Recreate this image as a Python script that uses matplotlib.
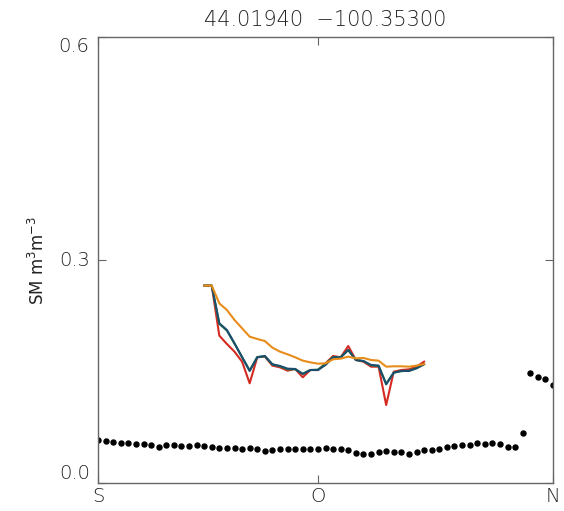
import matplotlib
matplotlib.use("Agg")
import matplotlib.pyplot as plt
import numpy as np

# dotted series along the whole transect (61 positions, S -> N)
dot_sm = [0.0578, 0.0565, 0.0556, 0.0542, 0.0534, 0.0525, 0.0525, 0.0511, 0.0488, 0.0507,
          0.0511, 0.0498, 0.0498, 0.0511, 0.0502, 0.0488, 0.0467, 0.0467, 0.0467, 0.0461,
          0.0471, 0.0453, 0.0435, 0.0444, 0.0457, 0.0457, 0.0457, 0.0453, 0.0453, 0.0457,
          0.0471, 0.0453, 0.0453, 0.0444, 0.0408, 0.0390, 0.0390, 0.0417, 0.0435, 0.0413,
          0.0413, 0.0390, 0.0417, 0.0440, 0.0444, 0.0461, 0.0480, 0.0494, 0.0507, 0.0515,
          0.0534, 0.0521, 0.0542, 0.0521, 0.0488, 0.0488, 0.0669, 0.1476, 0.1422, 0.1395,
          0.1318]
dot_x = np.arange(len(dot_sm))

# line series, positions 14..43
line_x = np.arange(14, 44)
red_sm = [0.2655, 0.2655, 0.1982, 0.1870, 0.1767, 0.1632, 0.1341, 0.1691, 0.1700, 0.1579,
          0.1556, 0.1511, 0.1534, 0.1422, 0.1520, 0.1520, 0.1610, 0.1709, 0.1691, 0.1843,
          0.1655, 0.1632, 0.1565, 0.1565, 0.1049, 0.1498, 0.1520, 0.1529, 0.1565, 0.1632]
green_sm = [0.2655, 0.2655, 0.2140, 0.2050, 0.1875, 0.1695, 0.1515, 0.1695, 0.1705, 0.1595,
            0.1570, 0.1530, 0.1530, 0.1470, 0.1520, 0.1525, 0.1600, 0.1695, 0.1690, 0.1790,
            0.1655, 0.1640, 0.1585, 0.1575, 0.1335, 0.1485, 0.1505, 0.1510, 0.1545, 0.1600]
blue_sm = [0.2655, 0.2655, 0.2148, 0.2058, 0.1879, 0.1691, 0.1507, 0.1691, 0.1709, 0.1597,
           0.1574, 0.1538, 0.1534, 0.1466, 0.1520, 0.1520, 0.1588, 0.1691, 0.1691, 0.1789,
           0.1655, 0.1641, 0.1588, 0.1579, 0.1327, 0.1484, 0.1507, 0.1507, 0.1543, 0.1597]
orange_sm = [0.2655, 0.2655, 0.2417, 0.2327, 0.2193, 0.2081, 0.1969, 0.1937, 0.1910, 0.1821,
             0.1767, 0.1731, 0.1691, 0.1646, 0.1623, 0.1605, 0.1610, 0.1664, 0.1673, 0.1700,
             0.1677, 0.1682, 0.1655, 0.1646, 0.1565, 0.1570, 0.1570, 0.1565, 0.1579, 0.1600]

xtick_pos = [0, 29, 60]
xtick_lab = ['S', 'O', 'N']
ytick_pos = [0.0, 0.3, 0.6]
ytick_lab = ['0.0', '0.3', '0.6']

fig = plt.figure(figsize=(5.64, 5.11), dpi=100)
ax = fig.add_axes([98/564, 28/511, 455/564, 446/511])

ax.plot(dot_x, dot_sm, 'o', color='black', markersize=3.6, zorder=2)
ax.plot(line_x, red_sm, color='#d42a22', lw=1.5, zorder=3)
ax.plot(line_x, green_sm, color='#2e8b3e', lw=1.5, zorder=4)
ax.plot(line_x, blue_sm, color='#1b4d6e', lw=1.5, zorder=5)
ax.plot(line_x, orange_sm, color='#e88c1a', lw=1.5, zorder=6)

ax.set_xlim(0, 60)
ax.set_ylim(0, 0.6)
ax.set_xticks(xtick_pos)
ax.set_xticklabels(xtick_lab, fontsize=14, color='#222222', fontweight='light')
ax.set_yticks(ytick_pos)
ax.set_yticklabels(ytick_lab, fontsize=14, color='#222222', fontweight='light')
ax.tick_params(direction='in', length=6, width=0.8, color='#666666',
               top=True, right=True, pad=6)
ax.tick_params(axis='x', pad=3)
# IDL-like placement of the end labels
for lab, va in zip(ax.get_yticklabels(), ['bottom', 'center', 'top']):
    lab.set_verticalalignment(va)
for s in ax.spines.values():
    s.set_color('#666666')
    s.set_linewidth(1.0)

ax.set_ylabel('SM m$^3$m$^{-3}$', fontsize=12, color='#222222', labelpad=8)
ax.set_title('44.01940  \u2212100.35300', fontsize=15, color='#222222', pad=8,
             fontweight='light')

fig.savefig('out.png', dpi=100)
